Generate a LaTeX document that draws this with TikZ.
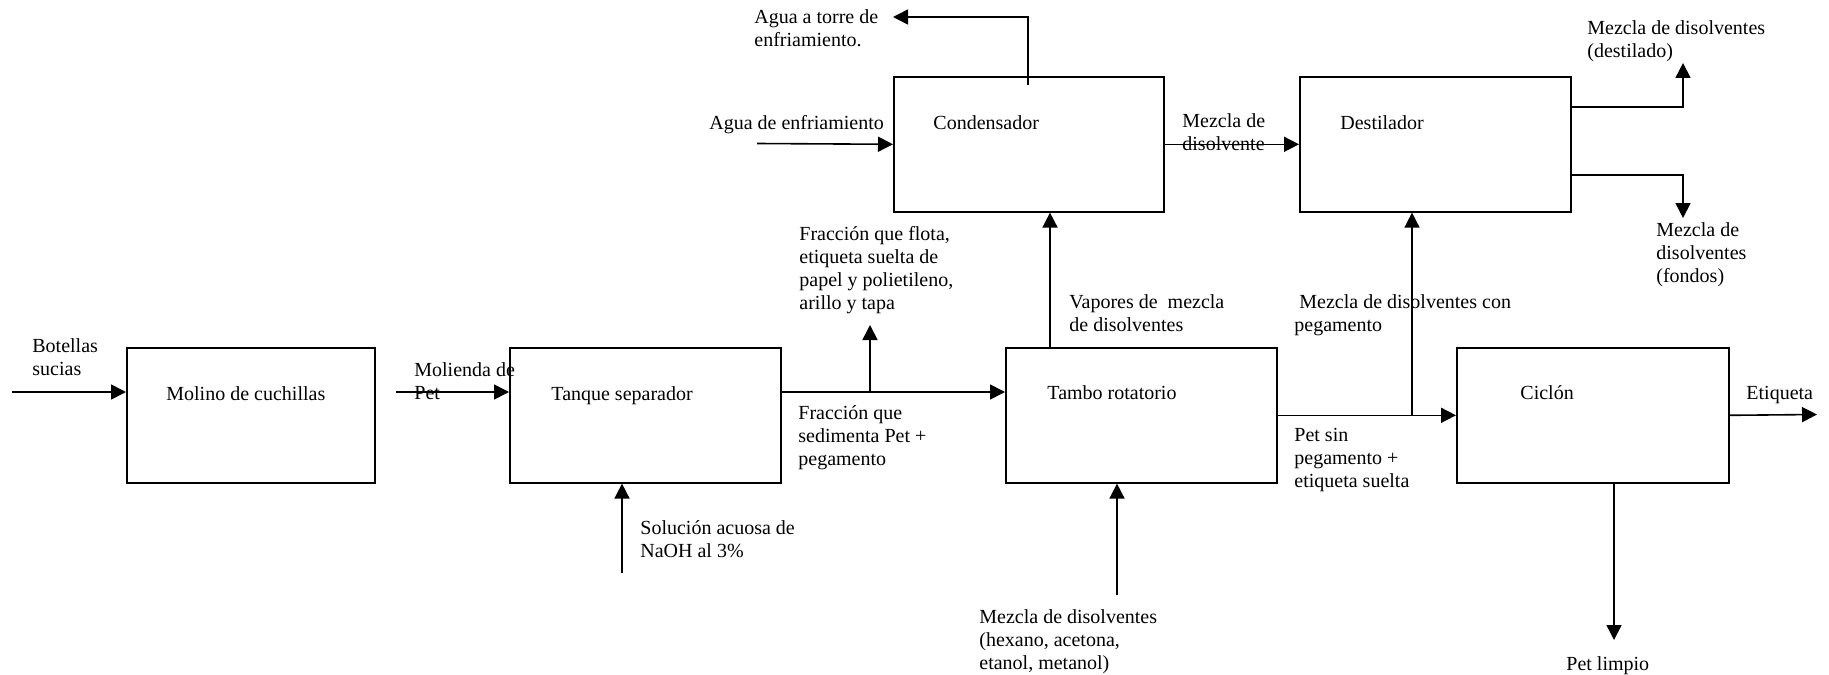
\documentclass[tikz,border=0pt]{standalone}
\usepackage{fontspec}
\setmainfont{Liberation Serif}
\usetikzlibrary{arrows.meta}

\tikzset{
  unit/.style={draw, line width=0.8pt, rectangle, inner sep=0pt, anchor=north west,
    minimum width=135.5pt, minimum height=67.5pt},
  tag/.style={anchor=west, inner sep=0pt, yshift=-1.75pt, font=\fontsize{10}{11.5}\selectfont,
    execute at begin node=\strut},
  note/.style={tag, anchor=north west, align=left},
  flow/.style={line width=0.8pt, -{Triangle[length=7.5pt,width=7.5pt]}}
}

\begin{document}
\begin{tikzpicture}[x=0.5pt,y=-0.5pt]
\useasboundingbox (0,0) rectangle (1829,674);

% Process units
\node[unit, minimum width=124pt] (molino) at (126,347) {};
\node[tag] (molinotxt) at (166,392) {Molino de cuchillas};
\node[unit] (tanque) at (509,347) {};
\node[tag] (tanquetxt) at (551,392) {Tanque separador};
\node[unit] (tambo) at (1005,347) {};
\node[tag] (tambotxt) at (1047,391) {Tambo rotatorio};
\node[unit, minimum width=136pt] (ciclon) at (1456,347) {};
\node[tag] (ciclontxt) at (1520,391) {Ciclón};
\node[unit, minimum width=135pt] (condensador) at (893,76) {};
\node[tag] (condtxt) at (933,121) {Condensador};
\node[unit] (destilador) at (1299,76) {};
\node[tag] (desttxt) at (1340,121) {Destilador};

% Streams
\coordinate (botin) at (12,392);
\draw[flow] (botin) -- (botin -| molino.west);
\coordinate (molout) at (396,392);
\draw[flow] (molout) -- (molout -| tanque.west);
\coordinate (sedim) at (870,392);
\coordinate (flota) at (870,325);
\draw[flow] (sedim -| tanque.east) -- (sedim -| tambo.west);
\draw[flow] (sedim) -- (flota);
\coordinate (sosa) at (622,573);
\draw[flow] (sosa) -- (sosa |- tanque.south);
\coordinate (vap) at (1050,0);
\draw[flow] (vap |- tambo.north) -- (vap |- condensador.south);
\coordinate (aguain) at (757,143.5);
\draw[flow] (aguain) -- (condensador.west);
\coordinate (torrein) at (1028,85);
\coordinate (torre) at (1028,17);
\draw[flow] (torrein) -- (torre) -- (torre -| condensador.west);
\draw[flow] (condensador.east) -- (destilador.west);
\coordinate (dtop) at (1683,107);
\coordinate (destil) at (1683,63);
\draw[flow] (dtop -| destilador.east) -- (dtop) -- (destil);
\coordinate (dbot) at (1683,175);
\coordinate (fondos) at (1683,218);
\draw[flow] (dbot -| destilador.east) -- (dbot) -- (fondos);
\draw[flow] (tambo.east) -- (ciclon.west);
\coordinate (peg) at (1412,0);
\draw[flow] (peg |- tambo.east) -- (peg |- destilador.south);
\coordinate (etiq) at (1817,414.5);
\draw[flow] (ciclon.east) -- (etiq);
\coordinate (limpio) at (1614,640);
\draw[flow] (limpio |- ciclon.south) -- (limpio);
\coordinate (mezin) at (1117,595);
\draw[flow] (mezin) -- (mezin |- tambo.south);

% Stream labels
\node[note] (botellas) at (32,334.5) {Botellas\\sucias};
\node[note] (molienda) at (414,358.5) {Molienda de\\Pet};
\node[note] (solucion) at (640,516.5) {Solución acuosa de\\NaOH al 3\%};
\node[note] (sedimtxt) at (798,401.5) {Fracción que\\sedimenta Pet +\\pegamento};
\node[note] (flotatxt) at (799,222.5) {Fracción que flota,\\etiqueta suelta de\\papel y polietileno,\\arillo y tapa};
\node[note] (torretxt) at (754,5.5) {Agua a torre de\\enfriamiento.};
\node[tag] (aguatxt) at (709,121) {Agua de enfriamiento};
\node[note] (disoltxt) at (1182,109.5) {Mezcla de\\disolvente};
\node[note] (destiltxt) at (1587,16.5) {Mezcla de disolventes\\(destilado)};
\node[note] (fondostxt) at (1656,218.5) {Mezcla de\\disolventes\\(fondos)};
\node[note] (vaportxt) at (1069,290.5) {Vapores de\ \ mezcla\\de disolventes};
\node[note] (pegtxt) at (1294,290.5) {\ Mezcla de disolventes con\\pegamento};
\node[note] (petsin) at (1294,424.5) {Pet sin\\pegamento +\\etiqueta suelta};
\node[tag] (etiqtxt) at (1746,391) {Etiqueta};
\node[tag] (limpiotxt) at (1566,662) {Pet limpio};
\node[note] (mezcla) at (979,605.5) {Mezcla de disolventes\\(hexano, acetona,\\etanol, metanol)};
\end{tikzpicture}
\end{document}
